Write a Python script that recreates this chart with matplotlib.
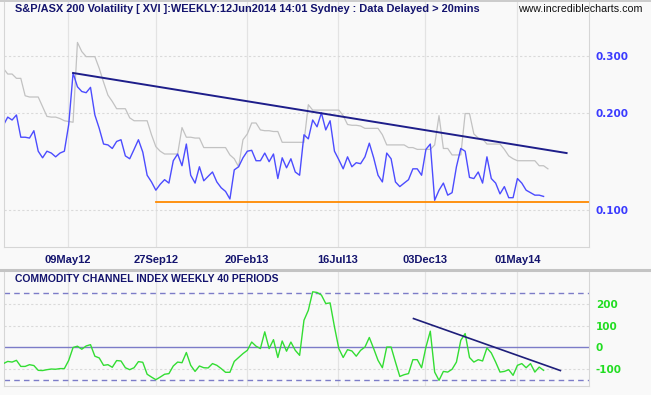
import numpy as np
import pandas as pd
import matplotlib
matplotlib.use('Agg')
import matplotlib.pyplot as plt
import matplotlib.dates as mdates

# weekly XVI close (blue)
xvi = [0.183, 0.194, 0.190, 0.197, 0.168, 0.168, 0.167, 0.176, 0.152, 0.145,
       0.152, 0.150, 0.146, 0.150, 0.152, 0.184, 0.266, 0.241, 0.233, 0.231,
       0.240, 0.197, 0.179, 0.160, 0.159, 0.155, 0.163, 0.165, 0.147, 0.144,
       0.154, 0.165, 0.151, 0.128, 0.122, 0.115, 0.120, 0.124, 0.121, 0.142,
       0.149, 0.137, 0.160, 0.128, 0.121, 0.136, 0.123, 0.127, 0.131, 0.122,
       0.117, 0.114, 0.108, 0.133, 0.136, 0.145, 0.152, 0.153, 0.142, 0.142,
       0.150, 0.141, 0.149, 0.125, 0.145, 0.135, 0.144, 0.131, 0.128, 0.171,
       0.166, 0.190, 0.181, 0.200, 0.177, 0.189, 0.152, 0.143, 0.134, 0.146,
       0.136, 0.140, 0.139, 0.146, 0.161, 0.145, 0.128, 0.122, 0.150, 0.144,
       0.122, 0.118, 0.121, 0.124, 0.134, 0.134, 0.128, 0.154, 0.160, 0.107,
       0.115, 0.121, 0.111, 0.113, 0.136, 0.155, 0.152, 0.126, 0.125, 0.131,
       0.121, 0.146, 0.125, 0.121, 0.112, 0.118, 0.109, 0.109, 0.125, 0.121,
       0.115, 0.113, 0.111, 0.111, 0.110]

# grey comparison line
grey = [0.275, 0.264, 0.264, 0.256, 0.256, 0.226, 0.224, 0.224, 0.224, 0.209,
        0.195, 0.194, 0.194, 0.192, 0.189, 0.188, 0.187, 0.331, 0.310, 0.299,
        0.299, 0.299, 0.275, 0.249, 0.227, 0.217, 0.206, 0.206, 0.206, 0.193,
        0.189, 0.189, 0.189, 0.189, 0.171, 0.157, 0.152, 0.149, 0.149, 0.149,
        0.149, 0.180, 0.168, 0.168, 0.167, 0.167, 0.156, 0.156, 0.156, 0.156,
        0.156, 0.156, 0.148, 0.144, 0.136, 0.165, 0.172, 0.186, 0.186, 0.177,
        0.176, 0.176, 0.175, 0.175, 0.162, 0.162, 0.162, 0.162, 0.162, 0.162,
        0.212, 0.204, 0.204, 0.204, 0.204, 0.204, 0.204, 0.204, 0.196, 0.184,
        0.183, 0.183, 0.182, 0.179, 0.179, 0.179, 0.179, 0.171, 0.159, 0.159,
        0.159, 0.159, 0.159, 0.156, 0.156, 0.154, 0.154, 0.154, 0.154, 0.159,
        0.196, 0.155, 0.155, 0.148, 0.148, 0.148, 0.199, 0.199, 0.172, 0.167,
        0.166, 0.160, 0.160, 0.160, 0.160, 0.154, 0.147, 0.144, 0.142, 0.142,
        0.142, 0.142, 0.142, 0.137, 0.137, 0.134]

# CCI 40 weekly
cci = [-75, -65, -68, -60, -88, -88, -80, -84, -106, -107,
       -103, -100, -101, -98, -98, -60, -1, 5, -9, 6,
       12, -41, -49, -83, -80, -92, -61, -63, -94, -103,
       -94, -66, -69, -124, -137, -149, -137, -124, -121, -86,
       -68, -71, -24, -83, -111, -86, -94, -95, -75, -83,
       -98, -115, -115, -65, -47, -29, -14, 24, 5, -6,
       71, -6, 35, -47, 29, -18, 24, -14, -37, 124,
       170, 255, 252, 240, 201, 204, 94, -6, -47, -11,
       -17, -41, -14, 1, 45, -6, -60, -94, 1, 1,
       -68, -134, -126, -121, -57, -57, -94, 1, 74, -114,
       -152, -111, -114, -101, -68, 32, 63, -47, -68, -57,
       -63, -3, -26, -68, -114, -111, -103, -129, -83, -75,
       -94, -75, -114, -91, -106]

dates = pd.date_range(end='2014-06-12', periods=len(xvi), freq='7D')
grey_dates = pd.date_range(start=dates[0], periods=len(grey), freq='7D')

xvi_trend_d = ['2012-05-17', '2014-07-19']
xvi_trend_v = [0.266, 0.150]
support_d = ['2012-09-27', '2014-08-30']
support_v = [0.106, 0.106]
cci_trend_d = ['2013-11-15', '2014-07-09']
cci_trend_v = [132, -107]

tick_dates = ['2012-05-09', '2012-09-27', '2013-02-20', '2013-07-16', '2013-12-03', '2014-05-01']
tick_labels = ['09May12', '27Sep12', '20Feb13', '16Jul13', '03Dec13', '01May14']

bg = '#f9f9f9'
navy = '#14146e'
fig = plt.figure(figsize=(6.51, 3.95), dpi=100, facecolor=bg)
W, H = 651, 395

def rect(l, t, r, b):
    return [l / W, 1 - b / H, (r - l) / W, (b - t) / H]

ax1 = fig.add_axes(rect(4, 2, 589, 247))
ax2 = fig.add_axes(rect(4, 272, 589, 386))
xl = (pd.Timestamp('2012-01-27'), pd.Timestamp('2014-08-24'))
tds = pd.to_datetime(tick_dates)

for ax in (ax1, ax2):
    ax.set_facecolor(bg)
    ax.set_xlim(xl)
    for s in ax.spines.values():
        s.set_color('#d6d6d6')
        s.set_linewidth(0.8)
    ax.spines['top'].set_visible(False)
    ax.yaxis.tick_right()
    ax.tick_params(axis='both', length=0)
    for d in tds:
        ax.axvline(d, color='#e3e3e3', lw=0.9, zorder=0)

# top panel
ax1.set_yscale('log')
ax1.set_ylim(0.0766, 0.442)
ax1.yaxis.set_minor_locator(matplotlib.ticker.NullLocator())
ax1.set_yticks([0.1, 0.2, 0.3])
ax1.set_yticklabels(['0.100', '0.200', '0.300'])
for v in [0.1, 0.2, 0.3]:
    ax1.axhline(v, color='#dadada', lw=0.8, ls=(0, (2, 2)), zorder=0)
ax1.plot(grey_dates, grey, color='#c2c2c2', lw=0.9)
ax1.plot(dates, xvi, color='#4c4cff', lw=1.0)
ax1.plot(pd.to_datetime(xvi_trend_d), xvi_trend_v, color='#1e1e8a', lw=1.4)
ax1.plot(pd.to_datetime(support_d), support_v, color='#ff8a00', lw=1.3, clip_on=True)
ax1.set_xticks(tds)
ax1.set_xticklabels(tick_labels)
for lab in ax1.get_xticklabels():
    lab.set_fontweight('bold')
    lab.set_color(navy)
    lab.set_fontsize(8)
    lab.set_family('Liberation Sans')
ax1.tick_params(axis='x', pad=6)
for lab in ax1.get_yticklabels():
    lab.set_fontweight('bold')
    lab.set_color('#3a3aff')
    lab.set_fontsize(7.5)
    lab.set_family('DejaVu Sans')
ax1.tick_params(axis='y', pad=5)

# bottom panel
ax2.set_ylim(-178, 346)
ax2.set_xticks([])
ax2.set_yticks([200, 100, 0, -100])
ax2.set_yticklabels(['200', '100', '0', '-100'])
for v in [200, 100, -100]:
    ax2.axhline(v, color='#dadada', lw=0.8, ls=(0, (2, 2)), zorder=0)
ax2.axhline(0, color='#7c7cc8', lw=1.0, zorder=1)
for v in [250, -150]:
    ax2.axhline(v, color='#7c7cc8', lw=1.0, ls=(0, (4, 3)), zorder=1)
ax2.plot(dates, cci, color='#33dd33', lw=1.0, zorder=3)
ax2.plot(pd.to_datetime(cci_trend_d), cci_trend_v, color='#1e1e7a', lw=1.2, zorder=4)
for lab in ax2.get_yticklabels():
    lab.set_fontweight('bold')
    lab.set_color('#22dd22')
    lab.set_fontsize(7.5)
    lab.set_family('DejaVu Sans')
ax2.tick_params(axis='y', pad=5)

fig.text(15 / W, 1 - 9 / H, 'S&P/ASX 200 Volatility [ XVI ]:WEEKLY:12Jun2014 14:01 Sydney : Data Delayed > 20mins',
         fontsize=7.9, fontweight='bold', color=navy, family='Liberation Sans', va='center')
fig.text(518 / W, 1 - 9 / H, 'www.incrediblecharts.com', fontsize=7.7, color='#111111',
         family='Liberation Sans', va='center')
fig.text(15 / W, 1 - 279 / H, 'COMMODITY CHANNEL INDEX WEEKLY 40 PERIODS',
         fontsize=7.45, fontweight='bold', color=navy, family='Liberation Sans', va='center')

# panel separators
fig.add_artist(plt.Line2D([0, 1], [1 - 269.5 / H] * 2, color='#c4c4c4', lw=2.2))
fig.add_artist(plt.Line2D([0, 1], [1 - 0.8 / H] * 2, color='#c4c4c4', lw=1.2))

fig.savefig('out.png', dpi=100, facecolor=bg)
